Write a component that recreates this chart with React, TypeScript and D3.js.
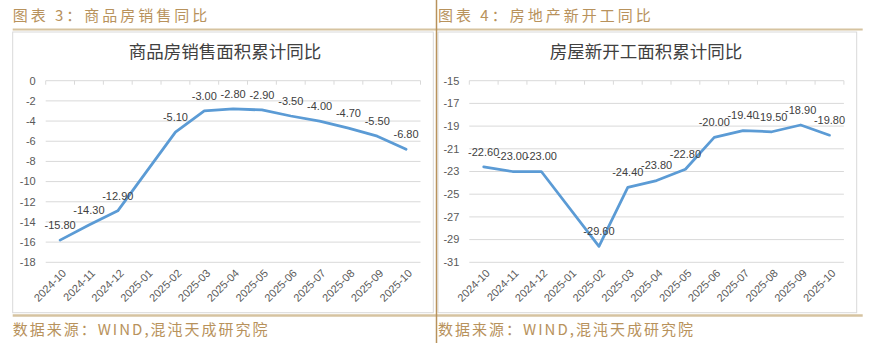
import React from "react";
import * as d3 from "d3";

const categories = [
  "2024-10", "2024-11", "2024-12", "2025-01", "2025-02", "2025-03", "2025-04",
  "2025-05", "2025-06", "2025-07", "2025-08", "2025-09", "2025-10",
];
const salesValues: (number | null)[] = [
  -15.8, -14.3, -12.9, null, -5.1, -3.0, -2.8, -2.9, -3.5, -4.0, -4.7, -5.5, -6.8,
];
const startsValues: (number | null)[] = [
  -22.6, -23.0, -23.0, null, -29.6, -24.4, -23.8, -22.8, -20.0, -19.4, -19.5, -18.9, -19.8,
];
const salesTicks = [0, -2, -4, -6, -8, -10, -12, -14, -16, -18];
const startsTicks = [-15, -17, -19, -21, -23, -25, -27, -29, -31];

const TAN = "#b8925c";
const LINE_TAN = "#d6c3a0";
const GRID = "#d9d9d9";
const AXIS_TXT = "#595959";
const LABEL_TXT = "#404040";
const BLUE = "#5b9bd5";
const CJK = "'Noto Sans CJK SC', 'Noto Sans', sans-serif";
const LAT = "'Liberation Sans', Arial, sans-serif";

type PanelProps = {
  header: string;
  title: string;
  titleX: number;
  values: (number | null)[];
  ticks: number[];
  domain: [number, number];
  x0: number;
  x1: number;
  box: [number, number, number, number];
};

function Panel({ header, title, titleX, values, ticks, domain, x0, x1, box }: PanelProps) {
  const yTop = 80.7;
  const yBot = 262.3;
  const x = d3.scaleBand<string>().domain(categories).range([x0, x1]).padding(0);
  const y = d3.scaleLinear().domain(domain).range([yBot, yTop]);
  const cx = (c: string) => (x(c) ?? 0) + x.bandwidth() / 2;
  const pts = categories
    .map((c, i) => ({ c, v: values[i] }))
    .filter((d) => d.v !== null) as { c: string; v: number }[];
  const line = d3
    .line<{ c: string; v: number }>()
    .x((d) => cx(d.c))
    .y((d) => y(d.v));
  const axisY = y(domain[1]);
  const boundaries = categories.map((c) => x(c) ?? 0).concat([x1]);
  return (
    <g>
      <text x={box[0]} y={16} dy="0.35em" fill={TAN} fontFamily={CJK} fontSize={15} letterSpacing={3}>
        {header}
      </text>
      <rect x={box[0]} y={box[1]} width={box[2] - box[0]} height={box[3] - box[1]} fill="#fff" stroke={GRID} strokeWidth={1} />
      <text x={titleX} y={52} dy="0.35em" textAnchor="middle" fill={LABEL_TXT} fontFamily={CJK} fontSize={17.5}>
        {title}
      </text>
      {ticks.map((t) => (
        <g key={t}>
          <line x1={x0} x2={x1} y1={y(t)} y2={y(t)} stroke={GRID} strokeWidth={1} />
          <text x={x0 - 10} y={y(t)} dy="0.35em" textAnchor="end" fill={AXIS_TXT} fontFamily={LAT} fontSize={11}>
            {t}
          </text>
        </g>
      ))}
      {boundaries.map((b, i) => (
        <line key={i} x1={b} x2={b} y1={axisY} y2={axisY + 4} stroke={GRID} strokeWidth={1} />
      ))}
      {categories.map((c) => (
        <text
          key={c}
          transform={`translate(${cx(c) + 1},${268}) rotate(-45)`}
          dy="0.75em"
          textAnchor="end"
          fill={AXIS_TXT}
          fontFamily={LAT}
          fontSize={11}
        >
          {c}
        </text>
      ))}
      <path d={line(pts) ?? ""} fill="none" stroke={BLUE} strokeWidth={2.75} strokeLinejoin="round" strokeLinecap="round" />
      {pts.map((d) => (
        <text key={d.c} x={cx(d.c)} y={y(d.v) - 15} dy="0.35em" textAnchor="middle" fill={LABEL_TXT} fontFamily={LAT} fontSize={11}>
          {d.v.toFixed(2)}
        </text>
      ))}
    </g>
  );
}

export default function App() {
  return (
    <svg width={869} height={343} style={{ position: "absolute", left: 0, top: 0, background: "#fff" }}>
      <rect x={0} y={0} width={869} height={343} fill="#fff" />
      <Panel
        header="图表 3：商品房销售同比"
        title="商品房销售面积累计同比"
        titleX={225}
        values={salesValues}
        ticks={salesTicks}
        domain={[-18, 0]}
        x0={45.7}
        x1={420.5}
        box={[12.7, 32, 433.3, 312.7]}
      />
      <Panel
        header="图表 4：房地产新开工同比"
        title="房屋新开工面积累计同比"
        titleX={646}
        values={startsValues}
        ticks={startsTicks}
        domain={[-31, -15]}
        x0={469.3}
        x1={843.9}
        box={[438, 32, 856.7, 312.7]}
      />
      <line x1={12.7} x2={862.7} y1={29.5} y2={29.5} stroke={LINE_TAN} strokeWidth={2} />
      <line x1={12.7} x2={862.7} y1={315.5} y2={315.5} stroke={LINE_TAN} strokeWidth={2.5} />
      <line x1={436.5} x2={436.5} y1={0} y2={343} stroke={TAN} strokeWidth={1.5} />
      <text x={12.7} y={330} dy="0.35em" fill={TAN} fontFamily={CJK} fontSize={15} letterSpacing={2}>
        数据来源：WIND,混沌天成研究院
      </text>
      <text x={438} y={330} dy="0.35em" fill={TAN} fontFamily={CJK} fontSize={15} letterSpacing={2}>
        数据来源：WIND,混沌天成研究院
      </text>
    </svg>
  );
}
